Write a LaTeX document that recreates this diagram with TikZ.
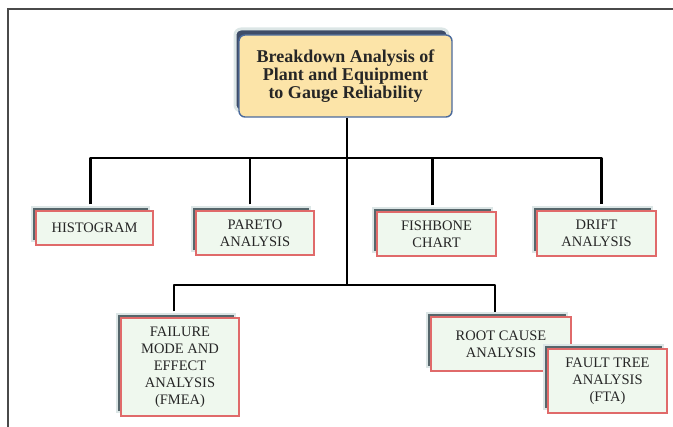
\documentclass[tikz,border=0pt]{standalone}
\usepackage{fontspec}
\setmainfont{Liberation Serif}
\usetikzlibrary{shadows}
\definecolor{framegray}{HTML}{4A4A4A}
\definecolor{boxred}{HTML}{E06A6A}
\definecolor{boxfill}{HTML}{EFF8EE}
\definecolor{slate}{HTML}{56666B}
\definecolor{glow}{HTML}{DCE6E6}
\definecolor{titlefill}{HTML}{FCE4A8}
\definecolor{titleedge}{HTML}{4B6A9C}
\definecolor{titleshadow}{HTML}{3E4C68}
\definecolor{inkgray}{HTML}{262626}
\begin{document}
\begin{tikzpicture}[x=1pt,y=-1pt,
  leaf/.style={draw=boxred, fill=boxfill, line width=1.2pt, align=center,
    inner sep=0pt, text=inkgray, font=\fontsize{14.5}{17}\selectfont,
    general shadow={fill=slate, draw=glow, line width=2pt,
      shadow xshift=-4pt, shadow yshift=4pt}},
  headbox/.style={draw=titleedge, fill=titlefill, line width=1.4pt,
    rounded corners=6pt, align=center, inner sep=0pt, text=inkgray,
    font=\bfseries\fontsize{18}{18}\selectfont,
    general shadow={fill=titleshadow, draw=glow, line width=3pt,
      shadow xshift=-4pt, shadow yshift=6pt}},
  link/.style={draw=black, line width=2.6pt, line join=round}]
  \useasboundingbox (0,0) rectangle (673,427);

  % page frame
  \draw[framegray, line width=1.8pt] (8,427) -- (8,9) -- (673,9);

  % root of the tree
  \node[headbox, minimum width=213pt, minimum height=82pt] (title) at (345.5,76)
    {Breakdown Analysis of\\Plant and Equipment\\to Gauge Reliability};

  % first row of methods
  \node[leaf, minimum width=117pt, minimum height=34pt] (hist) at (94.5,228) {HISTOGRAM};
  \node[leaf, minimum width=118pt, minimum height=44pt] (pareto) at (255,233) {PARETO\\ANALYSIS};
  \node[leaf, minimum width=119pt, minimum height=44pt] (fish) at (436.5,234) {FISHBONE\\CHART};
  \node[leaf, minimum width=119pt, minimum height=45pt] (drift) at (596.5,233.5) {DRIFT\\ANALYSIS};

  % second row of methods
  \node[leaf, minimum width=118pt, minimum height=98pt] (fmea) at (180,367)
    {FAILURE\\MODE AND\\EFFECT\\ANALYSIS\\(FMEA)};
  \node[leaf, minimum width=140pt, minimum height=54pt] (root) at (501,344)
    {ROOT CAUSE\\ANALYSIS};
  \node[leaf, minimum width=119pt, minimum height=64pt] (fta) at (607.5,381)
    {FAULT TREE\\ANALYSIS\\(FTA)};

  % branch points
  \coordinate (upper) at (347,158);
  \coordinate (lower) at (347,285);

  % connectors
  \draw[link] ([xshift=1.5pt]title.south) -- (lower);
  \draw[link] ([xshift=-4pt,yshift=6pt]hist.north) |- (upper)
              -| ([xshift=5pt,yshift=6pt]drift.north);
  \draw[link] ([xshift=-5pt,yshift=6pt]pareto.north) coordinate (pd) -- (pd |- upper);
  \draw[link] ([xshift=-4pt,yshift=6pt]fish.north) coordinate (fd) -- (fd |- upper);
  \draw[link] ([xshift=-6pt,yshift=6pt]fmea.north) |- (lower)
              -| ([xshift=-6pt,yshift=4pt]root.north);
\end{tikzpicture}
\end{document}
